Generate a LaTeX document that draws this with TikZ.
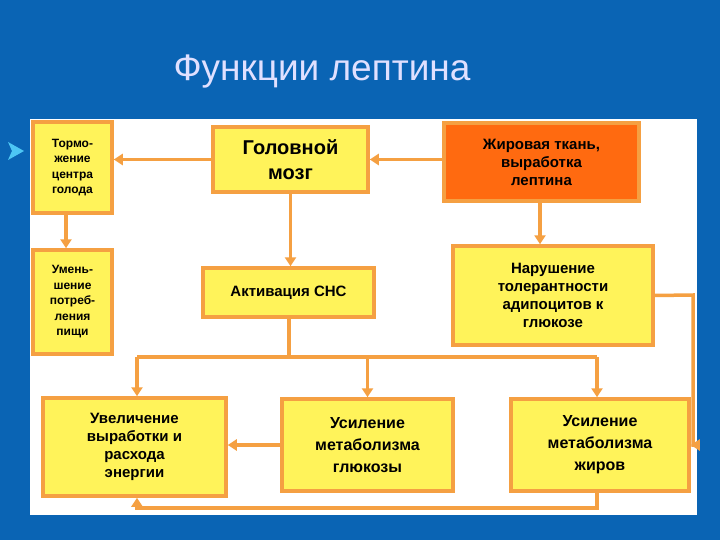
\documentclass[tikz,border=0pt]{standalone}
\usepackage{fontspec}
\setmainfont{Liberation Sans}
\usetikzlibrary{arrows.meta}
\definecolor{bg}{HTML}{0A64B4}
\definecolor{yel}{HTML}{FFF35A}
\definecolor{org}{HTML}{F5A042}
\definecolor{dorg}{HTML}{FF6A10}
\begin{document}
\begin{tikzpicture}[x=1pt,y=-1pt,
  box/.style={draw=org,line width=3.5pt,fill=yel,align=center,font=\bfseries\fontsize{15}{18}\selectfont,inner sep=1pt},
  ar/.style={draw=org,line width=3.5pt,-{Triangle[length=9pt,width=11pt]}},
  ln/.style={draw=org,line width=3.5pt}]
\fill[bg] (0,0) rectangle (720,540);
\useasboundingbox (0,0) rectangle (720,540);
\fill[white] (30,119) rectangle (697,515);
\node[text=white!88!blue,font=\fontsize{37}{42}\selectfont] (title) at (322,72) {Функции лептина};
\fill[cyan!70!white] (8,142) -- (24,151) -- (8,160) -- (12,151) -- cycle;
\node[box,font=\bfseries\fontsize{12}{15.5}\selectfont,minimum width=79,minimum height=91] (A) at (72.5,167.5) {Тормо-\\жение\\центра\\голода};
\node[box,font=\bfseries\fontsize{12}{15.5}\selectfont,minimum width=79,minimum height=104] (B) at (72.5,302) {Умень-\\шение\\потреб-\\ления\\пищи};
\node[box,font=\bfseries\fontsize{20}{25}\selectfont,minimum width=155,minimum height=65] (C) at (290.5,159.5) {Головной\\мозг};
\node[box,fill=dorg,minimum width=195,minimum height=78] (D) at (541.5,162) {Жировая ткань,\\выработка\\лептина};
\node[box,minimum width=171,minimum height=49] (E) at (288.5,292.5) {Активация СНС};
\node[box,minimum width=200,minimum height=99] (F) at (553,295.5) {Нарушение\\толерантности\\адипоцитов к\\глюкозе};
\node[box,minimum width=183,minimum height=98] (G) at (134.5,447) {Увеличение\\выработки и\\расхода\\энергии};
\node[box,font=\bfseries\fontsize{16}{22}\selectfont,minimum width=171,minimum height=92] (H) at (367.5,445) {Усиление\\метаболизма\\глюкозы};
\node[box,font=\bfseries\fontsize{16}{22}\selectfont,minimum width=178,minimum height=92] (I) at (600,445) {Усиление\\метаболизма\\жиров};
\coordinate (j1) at (289,357);
\coordinate (jl) at (137,357);
\coordinate (jr) at (597,357);
\coordinate (fr) at (693,295);
\coordinate (fb) at (693,445);
\coordinate (b1) at (597,508);
\coordinate (b2) at (137,508);
\draw[ar] (C.west) -- (A.east |- C.west);
\draw[ar] (D.west |- C.west) -- (C.east);
\draw[ar] (A.south -| 66,0) -- (B.north -| 66,0);
\draw[ar] (C.south) -- (E.north -| C.south);
\draw[ar] (D.south -| 540,0) -- (F.north -| 540,0);
\draw[ln] (E.south -| j1) -- (j1);
\draw[ln] (jl) -- (jr);
\draw[ar] (jl) -- (G.north -| jl);
\draw[ar] (367.5,357) -- (H.north);
\draw[ar] (jr) -- (I.north -| jr);
\draw[ar] (F.east) -- (fr) -- (fb) -- (I.east);
\draw[ar] (H.west) -- (G.east |- H.west);
\draw[ar] (I.south -| b1) -- (b1) -- (b2) -- (G.south -| b2);
\end{tikzpicture}
\end{document}
